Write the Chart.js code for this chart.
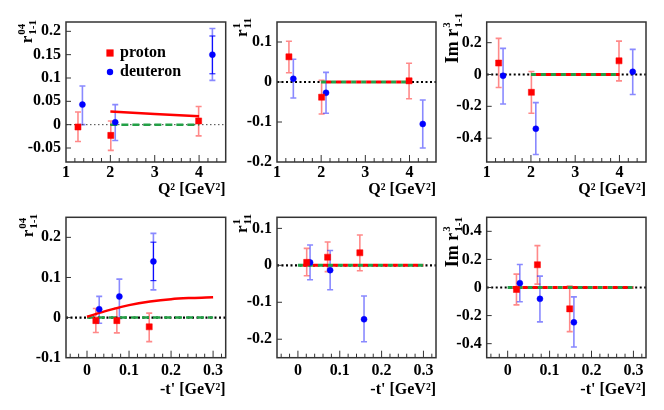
<!DOCTYPE html>
<html><head><meta charset="utf-8">
<script src="https://cdn.jsdelivr.net/npm/chart.js@4/dist/chart.umd.min.js"></script>
<style>
html,body{margin:0;padding:0;background:#fff;}
#wrap{position:relative;width:664px;height:410px;overflow:hidden;background:#fff;}
canvas{position:absolute;}
</style></head><body><div id="wrap">
<canvas id="c1"></canvas><canvas id="c2"></canvas><canvas id="c3"></canvas>
<canvas id="c4"></canvas><canvas id="c5"></canvas><canvas id="c6"></canvas>
</div>
<script>
// ---------- data ----------
const q2Ticks = [1, 2, 3, 4];
const tTicks = [0, 0.1, 0.2, 0.3];
const yTicksR04Q2 = [-0.05, 0, 0.05, 0.1, 0.15, 0.2];
const yTicksR1Q2 = [-0.2, -0.1, 0, 0.1];
const yTicksImR3Q2 = [-0.4, -0.2, 0, 0.2];
const yTicksR04T = [-0.1, 0, 0.1, 0.2];
const yTicksR1T = [-0.2, -0.1, 0, 0.1];
const yTicksImR3T = [-0.4, -0.2, 0, 0.2, 0.4];

// bin centres
const q2ProtonX = [1.27, 2.01, 3.99];
const q2DeuteronX = [1.37, 2.11, 4.30];
const tProtonX = [0.021, 0.071, 0.148];
const tDeuteronX = [0.029, 0.077, 0.158];

// [value, low, high, (innerLow, innerHigh)]
const r04Q2Proton = [[-0.005, -0.036, 0.027], [-0.023, -0.055, 0.008], [0.008, -0.024, 0.039]];
const r04Q2Deuteron = [[0.043, 0.0, 0.083], [0.005, -0.034, 0.043], [0.150, 0.095, 0.206, 0.109, 0.190]];
const r1Q2Proton = [[0.063, 0.023, 0.102], [-0.038, -0.080, 0.004], [0.003, -0.042, 0.047]];
const r1Q2Deuteron = [[0.008, -0.040, 0.057], [-0.027, -0.078, 0.024], [-0.105, -0.165, -0.045]];
const imR3Q2Proton = [[0.072, -0.082, 0.227], [-0.112, -0.244, 0.019], [0.086, -0.040, 0.210]];
const imR3Q2Deuteron = [[-0.008, -0.185, 0.164], [-0.341, -0.503, -0.177], [0.017, -0.126, 0.158]];
const r04TProton = [[-0.0075, -0.037, 0.0225], [-0.0075, -0.038, 0.023], [-0.023, -0.060, 0.011]];
const r04TDeuteron = [[0.021, -0.014, 0.053], [0.0525, -0.002, 0.096], [0.140, 0.069, 0.210, 0.092, 0.188]];
const r1TProton = [[0.008, -0.028, 0.046], [0.022, -0.017, 0.063], [0.034, -0.0145, 0.082]];
const r1TDeuteron = [[0.008, -0.039, 0.055], [-0.013, -0.066, 0.040], [-0.146, -0.207, -0.083]];
const imR3TProton = [[-0.014, -0.124, 0.095], [0.162, 0.024, 0.298], [-0.152, -0.314, 0.010]];
const imR3TDeuteron = [[0.031, -0.102, 0.164], [-0.081, -0.245, 0.081], [-0.248, -0.424, -0.067]];

// model / fit curves
const r04Q2FitX = [2.0, 4.0];
const r04Q2FitY = [0.028, 0.018];
const q2FlatX = [2.0, 4.0];
const q2FlatY = [0, 0];
const r04TCurveX = [0, 0.05, 0.1, 0.15, 0.2, 0.25, 0.3];
const r04TCurveY = [0.002, 0.018, 0.031, 0.040, 0.046, 0.049, 0.051];
const tFlatX = [0, 0.3];
const tFlatY = [0, 0];
const q2Range = [1, 4.6];
const tRange = [-0.05, 0.33];

// ---------- drawing ----------
const FONT = "'Liberation Serif','Times New Roman',serif";
const RED = '#ff0000', BLUE = '#0000ff', GREEN = '#23a046';
const ERR_RED = 'rgba(255,40,40,0.55)', ERR_BLUE = 'rgba(40,40,255,0.55)';

function pts(xs, rows) { return rows.map((r, i) => ({ x: xs[i], y: r[0] })); }
function line(xs, ys) { return xs.map((x, i) => ({ x: x, y: ys[i] })); }

function drawErr(chart, xs, rows, col, colInner) {
  const ctx = chart.ctx, sx = chart.scales.x, sy = chart.scales.y;
  rows.forEach((r, i) => {
    const px = sx.getPixelForValue(xs[i]);
    const lo = sy.getPixelForValue(r[1]), hi = sy.getPixelForValue(r[2]);
    ctx.strokeStyle = col; ctx.lineWidth = 1.6; ctx.setLineDash([]);
    ctx.beginPath();
    ctx.moveTo(px, lo); ctx.lineTo(px, hi);
    ctx.moveTo(px - 3, lo); ctx.lineTo(px + 3, lo);
    ctx.moveTo(px - 3, hi); ctx.lineTo(px + 3, hi);
    ctx.stroke();
    if (r.length > 3) {
      const a = sy.getPixelForValue(r[3]), b = sy.getPixelForValue(r[4]);
      ctx.strokeStyle = colInner; ctx.lineWidth = 1;
      ctx.beginPath();
      ctx.moveTo(px, a); ctx.lineTo(px, b);
      ctx.moveTo(px - 3, a); ctx.lineTo(px + 3, a);
      ctx.moveTo(px - 3, b); ctx.lineTo(px + 3, b);
      ctx.stroke();
    }
  });
}

function drawYTitle(ctx, t, bx, by) {
  ctx.save();
  ctx.translate(t.x - bx, t.y - by);
  ctx.rotate(-Math.PI / 2);
  const big = 'bold ' + t.size + 'px ' + FONT, small = 'bold ' + t.small + 'px ' + FONT;
  ctx.font = big; const wMain = ctx.measureText(t.main).width;
  ctx.font = small;
  const wSup = ctx.measureText(t.sup).width, wSub = ctx.measureText(t.sub).width;
  const total = wMain + 1 + Math.max(wSup, wSub);
  let u = -total;
  ctx.fillStyle = '#000'; ctx.textBaseline = 'alphabetic'; ctx.textAlign = 'left';
  ctx.font = big; ctx.fillText(t.main, u, 0);
  u += wMain + 1;
  ctx.font = small;
  ctx.fillText(t.sup, u, -t.size * 0.42);
  ctx.fillText(t.sub, u, t.size * 0.22);
  ctx.restore();
}

function makePanel(p) {
  const cv = document.getElementById(p.id);
  cv.width = p.box.w; cv.height = p.box.h;
  cv.style.left = p.box.x + 'px'; cv.style.top = p.box.y + 'px';
  const fr = p.frame;
  const datasets = [
    { data: pts(p.protonX, p.proton), pointStyle: 'rect', pointRadius: 4.3, backgroundColor: RED, borderColor: RED, borderWidth: 0.5, showLine: false },
    { data: pts(p.deuteronX, p.deuteron), pointStyle: 'circle', pointRadius: 3, backgroundColor: BLUE, borderColor: BLUE, borderWidth: 0.5, showLine: false }
  ];
  if (p.fit) datasets.push({ data: line(p.fit.x, p.fit.y), showLine: true, borderColor: RED, borderWidth: 2.5, pointRadius: 0, tension: 0.4, cubicInterpolationMode: 'monotone' });
  if (p.alt) datasets.push({ data: line(p.flatX, p.flatY), showLine: true, borderColor: RED, borderWidth: 3, borderDash: [5, 5], borderDashOffset: 5, pointRadius: 0 });
  datasets.push({ data: line(p.flatX, p.flatY), showLine: true, borderColor: GREEN, borderWidth: p.alt ? 3 : 2.5, borderDash: p.alt ? [5, 5] : [7, 4], pointRadius: 0 });
  datasets.push({ data: line(p.xRange, [0, 0]), showLine: true, borderColor: p.zeroColor, borderWidth: p.zeroW, borderDash: p.zeroDash, pointRadius: 0 });

  const decor = {
    id: 'decor' + p.id,
    beforeDatasetsDraw(chart) {
      const ctx = chart.ctx, a = chart.chartArea;
      ctx.save();
      ctx.beginPath(); ctx.rect(a.left, a.top, a.right - a.left, a.bottom - a.top); ctx.clip();
      drawErr(chart, p.protonX, p.proton, ERR_RED, RED);
      drawErr(chart, p.deuteronX, p.deuteron, ERR_BLUE, BLUE);
      ctx.restore();
    },
    afterDatasetsDraw(chart) {
      const ctx = chart.ctx, a = chart.chartArea, sx = chart.scales.x, sy = chart.scales.y;
      ctx.save();
      ctx.setLineDash([]);
      ctx.strokeStyle = '#333'; ctx.lineWidth = 1;
      ctx.beginPath();
      // x major / minor ticks (inward)
      for (let v = p.minorStart; v <= p.xRange[1] + 1e-9; v += p.minorStep) {
        const px = sx.getPixelForValue(v);
        if (px < a.left + 1 || px > a.right - 1) continue;
        const isMajor = p.xTicks.some(t => Math.abs(t - v) < 1e-6);
        ctx.moveTo(px, a.bottom); ctx.lineTo(px, a.bottom - (isMajor ? 7 : 4));
      }
      p.yTicks.forEach(v => {
        const py = sy.getPixelForValue(v);
        if (py < a.top + 1 || py > a.bottom - 1) return;
        ctx.moveTo(a.left, py); ctx.lineTo(a.left + 5, py);
      });
      ctx.stroke();
      ctx.lineWidth = 1.5; ctx.strokeStyle = '#333';
      ctx.strokeRect(a.left, a.top, a.right - a.left, a.bottom - a.top);
      // y title
      drawYTitle(ctx, p.yTitle, p.box.x, p.box.y);
      // legend
      if (p.legend) {
        const bx = p.box.x, by = p.box.y;
        ctx.fillStyle = RED;
        ctx.fillRect(110 - 3.6 - bx, 53 - 3.6 - by, 7.2, 7.2);
        ctx.fillStyle = BLUE;
        ctx.beginPath(); ctx.arc(110 - bx, 72 - by, 3.2, 0, Math.PI * 2); ctx.fill();
        ctx.fillStyle = '#000';
        ctx.font = 'bold 16px ' + FONT; ctx.textAlign = 'left'; ctx.textBaseline = 'alphabetic';
        ctx.fillText('proton', 120 - bx, 57 - by);
        ctx.fillText('deuteron', 120 - bx, 76 - by);
      }
      ctx.restore();
    }
  };

  new Chart(cv, {
    type: 'scatter',
    data: { datasets: datasets },
    plugins: [decor],
    options: {
      responsive: false, animation: false, devicePixelRatio: 1,
      layout: { autoPadding: false, padding: { left: 0, top: fr.t - p.box.y, right: p.box.x + p.box.w - fr.r, bottom: 0 } },
      plugins: { legend: { display: false }, tooltip: { enabled: false } },
      scales: {
        x: {
          type: 'linear', min: p.xRange[0], max: p.xRange[1],
          afterBuildTicks: s => { s.ticks = p.xTicks.map(v => ({ value: v })); },
          afterFit: s => { s.height = p.box.y + p.box.h - fr.b; },
          grid: { display: false, drawTicks: false }, border: { display: false },
          ticks: { autoSkip: false, maxRotation: 0, minRotation: 0, padding: p.xPad, color: '#000', font: { family: FONT, size: 16, weight: 'bold' }, callback: v => String(v) },
          title: { display: true, text: p.xTitle, align: 'end', color: '#000', font: { family: FONT, size: 16, weight: 'bold' }, padding: { top: 0, bottom: 1 } }
        },
        y: {
          type: 'linear', min: p.yRange[0], max: p.yRange[1],
          afterBuildTicks: s => { s.ticks = p.yTicks.map(v => ({ value: v })); },
          afterFit: s => { s.width = fr.l - p.box.x; },
          grid: { display: false, drawTicks: false }, border: { display: false },
          ticks: { autoSkip: false, padding: 5, color: '#000', font: { family: FONT, size: 16, weight: 'bold' }, callback: v => String(v) }
        }
      }
    }
  });
}

const row1 = { y: 0, h: 200, t: 22, b: 162 };
const row2 = { y: 200, h: 200, t: 217.3, b: 357.7 };
const col1 = { x: 0, w: 236, l: 66, r: 225.7 };
const col2 = { x: 226, w: 220, l: 277, r: 436 };
const col3 = { x: 440, w: 224, l: 486.7, r: 646 };
function geo(c, r) { return { box: { x: c.x, y: r.y, w: c.w, h: r.h }, frame: { l: c.l, r: c.r, t: r.t, b: r.b } }; }

const q2Common = { xRange: q2Range, xTicks: q2Ticks, minorStep: 0.2, minorStart: 1, xTitle: 'Q² [GeV²]', xPad: 1.5, protonX: q2ProtonX, deuteronX: q2DeuteronX };
const tCommon = { xRange: tRange, xTicks: tTicks, minorStep: 0.02, minorStart: -0.04, xTitle: "-t' [GeV²]", xPad: 3.5, protonX: tProtonX, deuteronX: tDeuteronX };

makePanel(Object.assign({ id: 'c1' }, geo(col1, row1), q2Common, {
  yRange: [-0.08, 0.22], yTicks: yTicksR04Q2, proton: r04Q2Proton, deuteron: r04Q2Deuteron,
  fit: { x: r04Q2FitX, y: r04Q2FitY }, alt: false, flatX: q2FlatX, flatY: q2FlatY,
  zeroColor: '#444', zeroW: 1, zeroDash: [1.5, 2.5], legend: true,
  yTitle: { x: 32, y: 20, size: 17, small: 11, main: 'r', sup: '04', sub: '1-1' }
}));
makePanel(Object.assign({ id: 'c2' }, geo(col2, row1), q2Common, {
  yRange: [-0.2, 0.15], yTicks: yTicksR1Q2, proton: r1Q2Proton, deuteron: r1Q2Deuteron,
  alt: true, flatX: q2FlatX, flatY: q2FlatY,
  zeroColor: '#000', zeroW: 2.2, zeroDash: [2, 2.5],
  yTitle: { x: 247, y: 18, size: 17, small: 11, main: 'r', sup: '1', sub: '11' }
}));
makePanel(Object.assign({ id: 'c3' }, geo(col3, row1), q2Common, {
  yRange: [-0.55, 0.33], yTicks: yTicksImR3Q2, proton: imR3Q2Proton, deuteron: imR3Q2Deuteron,
  alt: true, flatX: q2FlatX, flatY: q2FlatY,
  zeroColor: '#000', zeroW: 2.2, zeroDash: [2, 2.5],
  yTitle: { x: 458, y: 13, size: 18, small: 11, main: 'Im r', sup: '3', sub: '1-1' }
}));
makePanel(Object.assign({ id: 'c4' }, geo(col1, row2), tCommon, {
  yRange: [-0.1, 0.25], yTicks: yTicksR04T, proton: r04TProton, deuteron: r04TDeuteron,
  fit: { x: r04TCurveX, y: r04TCurveY }, alt: false, flatX: tFlatX, flatY: tFlatY,
  zeroColor: '#000', zeroW: 2.2, zeroDash: [2, 2.5],
  yTitle: { x: 33, y: 214, size: 17, small: 11, main: 'r', sup: '04', sub: '1-1' }
}));
makePanel(Object.assign({ id: 'c5' }, geo(col2, row2), tCommon, {
  yRange: [-0.25, 0.13], yTicks: yTicksR1T, proton: r1TProton, deuteron: r1TDeuteron,
  alt: true, flatX: tFlatX, flatY: tFlatY,
  zeroColor: '#000', zeroW: 2.2, zeroDash: [2, 2.5],
  yTitle: { x: 247, y: 214, size: 17, small: 11, main: 'r', sup: '1', sub: '11' }
}));
makePanel(Object.assign({ id: 'c6' }, geo(col3, row2), tCommon, {
  yRange: [-0.5, 0.5], yTicks: yTicksImR3T, proton: imR3TProton, deuteron: imR3TDeuteron,
  alt: true, flatX: tFlatX, flatY: tFlatY,
  zeroColor: '#000', zeroW: 2.2, zeroDash: [2, 2.5],
  yTitle: { x: 458, y: 217, size: 18, small: 11, main: 'Im r', sup: '3', sub: '1-1' }
}));
</script>
</body></html>
